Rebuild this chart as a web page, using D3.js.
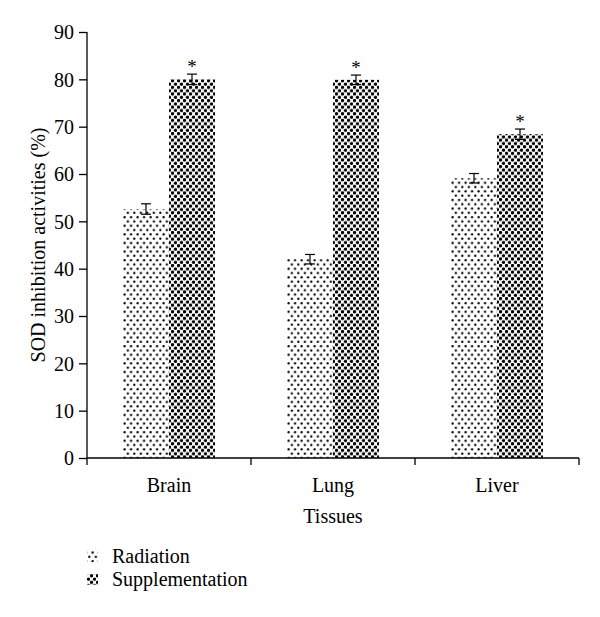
<!DOCTYPE html>
<html><head><meta charset="utf-8">
<script src="https://cdn.jsdelivr.net/npm/d3@7"></script>
<style>body{margin:0;background:#fff} svg text{font-family:"Liberation Serif","Times New Roman","DejaVu Serif",serif;}</style>
</head><body>
<svg id="c" width="600" height="617"></svg>
<script>
const categories = ["Brain", "Lung", "Liver"];
const seriesNames = ["Radiation", "Supplementation"];
const radiation = [52.6, 42.0, 59.1];
const supplementation = [80.0, 79.9, 68.4];
const radiationErr = [1.1, 1.0, 1.0];
const supplementationErr = [1.1, 1.0, 1.1];
const significant = [true, true, true];
const yTicks = [0,10,20,30,40,50,60,70,80,90];

const svg = d3.select("#c");
const fs = 20;
const m = {l:87, r:21, t:32, b:159};
const W = 600, H = 617;

const defs = svg.append("defs");
const p1 = defs.append("pattern").attr("id","pRad").attr("patternUnits","userSpaceOnUse")
  .attr("width",6.5).attr("height",8.6);
p1.append("rect").attr("width",6.5).attr("height",8.6).attr("fill","#fff");
p1.append("circle").attr("cx",1.6).attr("cy",2.1).attr("r",1.15).attr("fill","#000");
p1.append("circle").attr("cx",4.85).attr("cy",6.4).attr("r",1.15).attr("fill","#000");
const p2 = defs.append("pattern").attr("id","pSup").attr("patternUnits","userSpaceOnUse")
  .attr("width",6).attr("height",6.6);
p2.append("rect").attr("width",6).attr("height",6.6).attr("fill","#fff");
p2.append("circle").attr("cx",1.5).attr("cy",1.6).attr("r",1.7).attr("fill","#000");
p2.append("circle").attr("cx",4.5).attr("cy",4.9).attr("r",1.7).attr("fill","#000");
const fills = ["url(#pRad)", "url(#pSup)"];

const x0 = d3.scaleBand().domain(categories).range([m.l, W - m.r]).padding(0);
const x1 = d3.scaleBand().domain(seriesNames).range([0, 92]);
const y = d3.scaleLinear().domain([0,90]).range([H - m.b, m.t]);

const data = categories.map((c,i)=>({c, vals:[
  {s:seriesNames[0], v:radiation[i], e:radiationErr[i]},
  {s:seriesNames[1], v:supplementation[i], e:supplementationErr[i]}], sig:significant[i]}));

const g = svg.append("g");
const groups = g.selectAll("g.grp").data(data).enter().append("g")
  .attr("transform", d=>`translate(${x0(d.c) + x0.bandwidth()/2 - 46},0)`);
groups.selectAll("rect").data(d=>d.vals).enter().append("rect")
  .attr("x", d=>x1(d.s)).attr("width", x1.bandwidth())
  .attr("y", d=>y(d.v)).attr("height", d=>y(0)-y(d.v))
  .attr("fill", (d,i)=>fills[i]);
groups.selectAll("g.err").data(d=>d.vals).enter().append("g").each(function(d){
  const cx = x1(d.s) + x1.bandwidth()/2;
  const s = d3.select(this).attr("stroke","#000").attr("stroke-width",1.2);
  s.append("line").attr("x1",cx).attr("x2",cx).attr("y1",y(d.v+d.e)).attr("y2",y(d.v-d.e));
  s.append("line").attr("x1",cx-5).attr("x2",cx+5).attr("y1",y(d.v+d.e)).attr("y2",y(d.v+d.e));
  s.append("line").attr("x1",cx-5).attr("x2",cx+5).attr("y1",y(d.v-d.e)).attr("y2",y(d.v-d.e));
});
groups.filter(d=>d.sig).append("text")
  .attr("x", x1(seriesNames[1]) + x1.bandwidth()/2)
  .attr("y", d=>y(d.vals[1].v + d.vals[1].e) - 1)
  .attr("text-anchor","middle").attr("font-size",19)
  .text("*");

// Y axis
const ya = svg.append("g").attr("transform",`translate(${m.l},0)`)
  .call(d3.axisLeft(y).tickValues(yTicks).tickSize(8).tickPadding(5));
ya.attr("font-family",null).attr("font-size",null);
ya.selectAll("text").attr("font-size",fs).attr("fill","#000").attr("dy","0.34em");
ya.select(".domain").attr("d",`M0,${y(90)}V${y(0)}`).attr("stroke-width",1.3);
ya.selectAll(".tick line").attr("stroke-width",1.3);

// X axis
const xa = svg.append("g").attr("transform",`translate(0,${y(0)})`);
xa.append("line").attr("x1",m.l).attr("x2",W-m.r).attr("stroke","#000").attr("stroke-width",1.3);
const bounds = [m.l, ...categories.map(c=>x0(c)+x0.bandwidth())];
xa.selectAll("line.tk").data(bounds).enter().append("line").attr("class","tk")
  .attr("x1",d=>d).attr("x2",d=>d).attr("y1",0).attr("y2",7).attr("stroke","#000").attr("stroke-width",1.3);
xa.selectAll("text").data(categories).enter().append("text")
  .attr("x", d=>x0(d)+x0.bandwidth()/2).attr("y",34)
  .attr("text-anchor","middle").attr("font-size",fs).text(d=>d);

svg.append("text").attr("x", x0("Lung")+x0.bandwidth()/2).attr("y",523)
  .attr("text-anchor","middle").attr("font-size",fs).text("Tissues");
svg.append("text").attr("transform",`translate(45,${(y(0)+y(90))/2}) rotate(-90)`)
  .attr("text-anchor","middle").attr("font-size",fs)
  .text("SOD inhibition activities (%)");

// Legend
const leg = svg.append("g");
seriesNames.forEach((s,i)=>{
  const ly = 557 + i*23;
  leg.append("rect").attr("x",87).attr("y",ly-6).attr("width",11).attr("height",11).attr("fill",fills[i]);
  leg.append("text").attr("x",112).attr("y",ly+6).attr("font-size",fs).text(s);
});
</script>
</body></html>
